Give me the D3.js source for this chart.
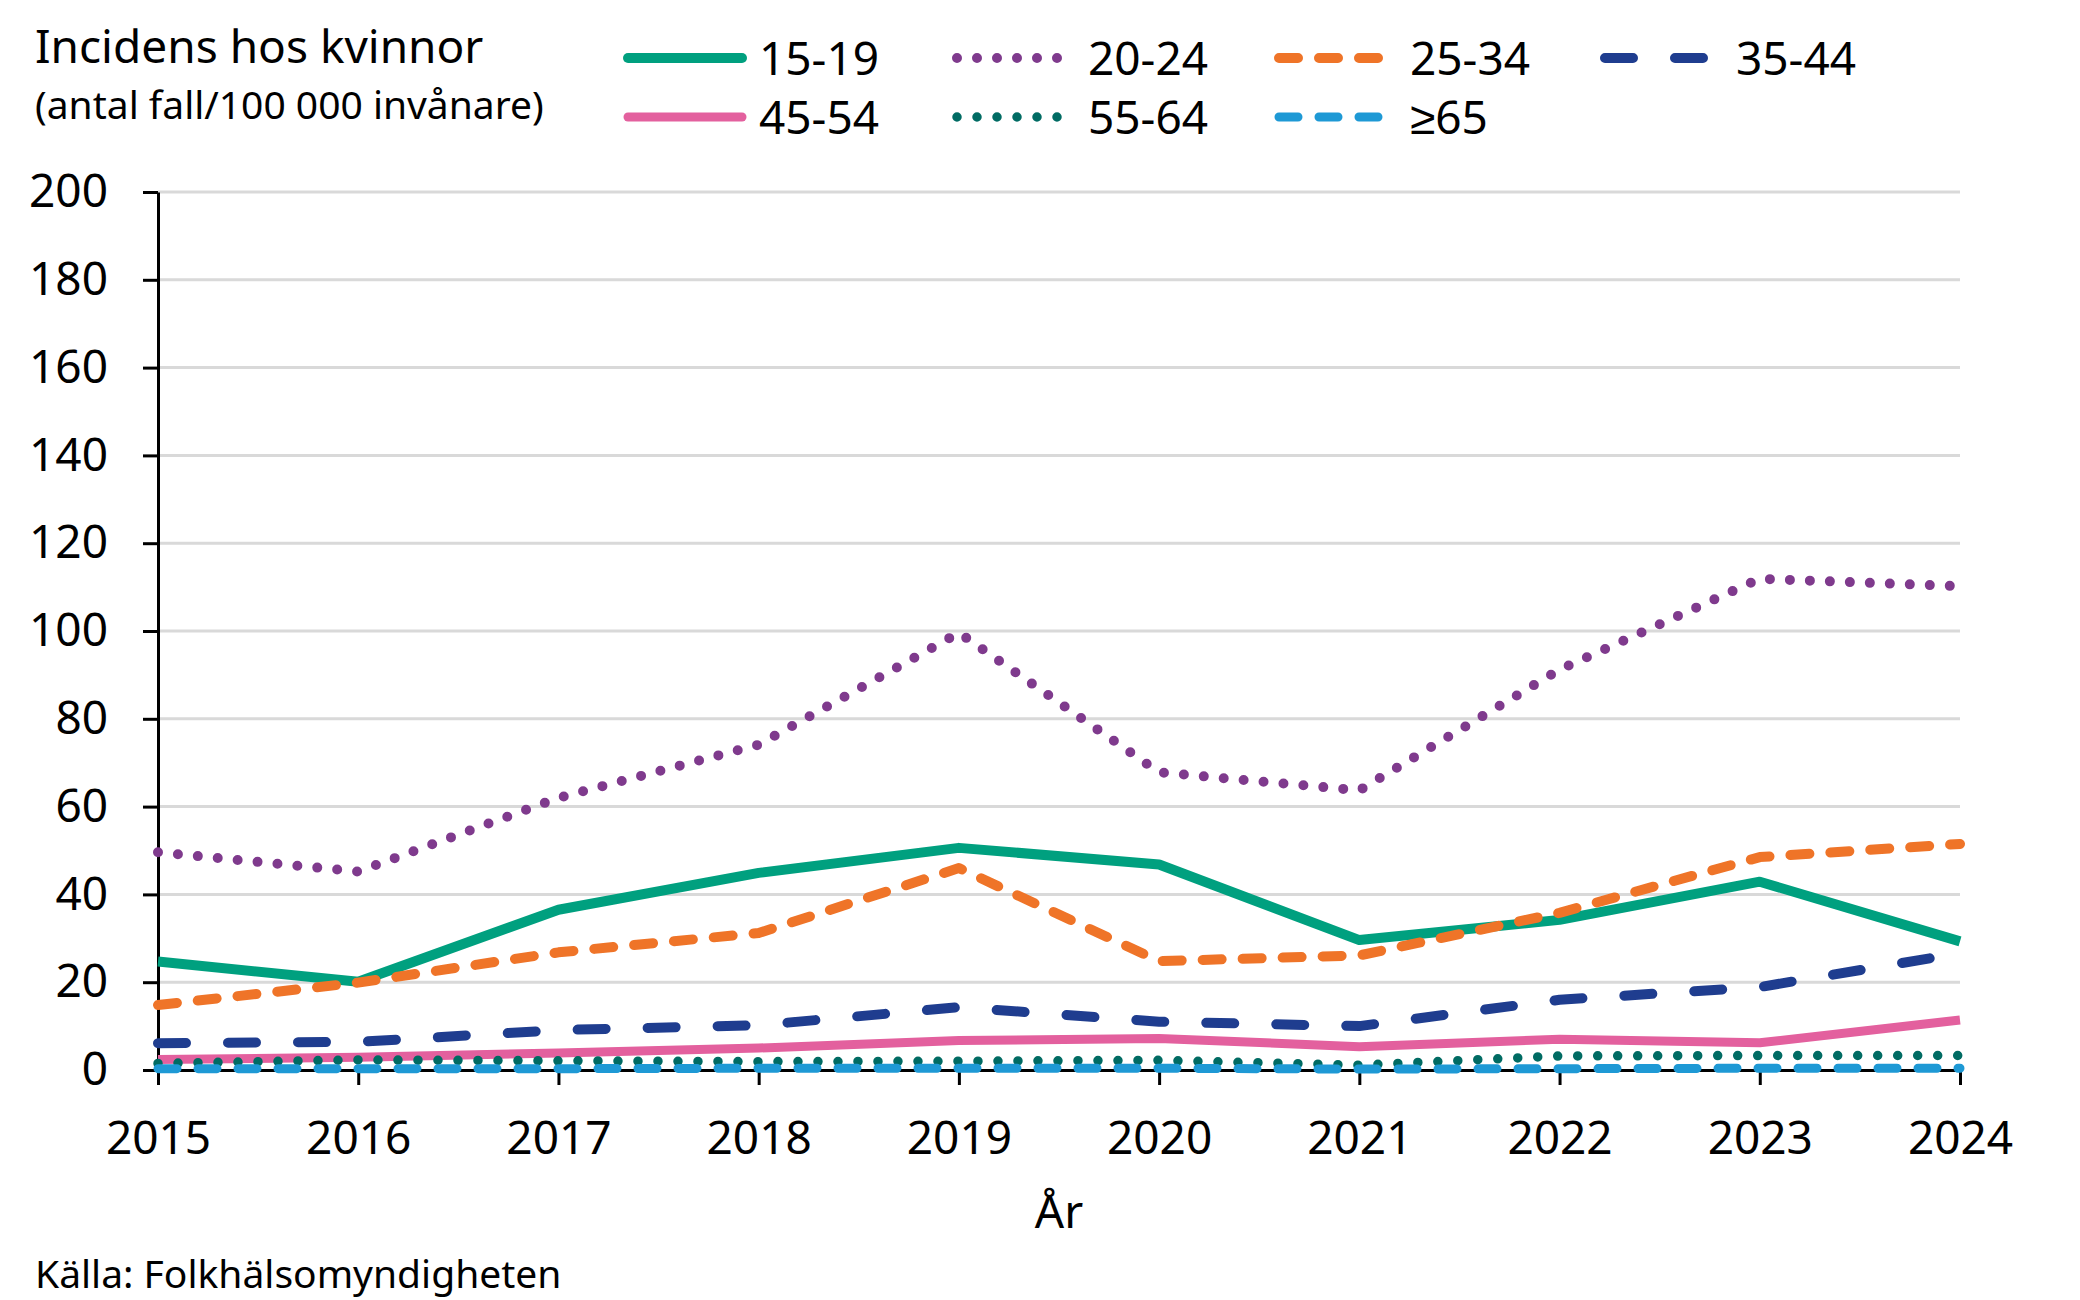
<!DOCTYPE html>
<html lang="sv">
  <head>
    <meta charset="utf-8" />
    <title>Incidens hos kvinnor</title>
    <script src="https://d3js.org/d3.v7.min.js" charset="utf-8"></script>
    <style type="text/css">
      body {
        margin: 0;
        background: #fff;
      }
      svg {
        display: block;
        font-family: "Noto Sans", sans-serif;
      }
      .axis path,
      .axis line {
        stroke: #000;
        stroke-width: 3;
      }
      .axis text {
        font-family: "Noto Sans", sans-serif;
        font-size: 46px;
        fill: #000;
      }
      .grid line {
        stroke: #d9d9d9;
        stroke-width: 3;
      }
    </style>
  </head>
  <body>
    <script type="text/javascript">
      // data (antal fall/100 000 invånare)
      const years = ["2015", "2016", "2017", "2018", "2019", "2020", "2021", "2022", "2023", "2024"];
      const ageGroups = ["15-19", "20-24", "25-34", "35-44", "45-54", "55-64", "≥65"];

      const v15_19 = [24.7, 20.1, 36.5, 44.9, 50.6, 46.8, 29.6, 34.2, 42.9, 29.3];
      const v20_24 = [49.6, 45.2, 62.0, 74.1, 99.6, 67.8, 63.7, 91.2, 111.9, 110.2];
      const v25_34 = [14.8, 19.9, 26.8, 31.2, 46.0, 24.8, 26.1, 35.8, 48.5, 51.5];
      const v35_44 = [6.1, 6.4, 9.1, 10.2, 14.3, 11.0, 10.0, 16.0, 18.9, 26.6];
      const v45_54 = [2.4, 2.9, 3.9, 5.0, 6.7, 7.2, 5.3, 7.0, 6.2, 11.4];
      const v55_64 = [1.5, 2.3, 2.1, 1.9, 2.0, 2.2, 1.1, 3.2, 3.3, 3.3];
      const v65 = [0.3, 0.3, 0.3, 0.4, 0.4, 0.4, 0.2, 0.3, 0.4, 0.4];

      const yTicks = [0, 20, 40, 60, 80, 100, 120, 140, 160, 180, 200];

      const values = [v15_19, v20_24, v25_34, v35_44, v45_54, v55_64, v65];

      // line look per series (colour, width, dash)
      const looks = [
        { colour: "#00a07f", w: 10, dash: null },
        { colour: "#7f3a8d", w: 10, dash: "0,20" },
        { colour: "#ef7428", w: 10, dash: "19,21" },
        { colour: "#1f3d8f", w: 10, dash: "28,42" },
        { colour: "#e3609e", w: 9, dash: null },
        { colour: "#006b63", w: 9.5, dash: "0,20" },
        { colour: "#1e99d5", w: 9, dash: "19,21" },
      ];

      const W = 2080,
        H = 1300;
      const margin = { top: 192, right: 120, bottom: 230, left: 158 };

      const svg = d3
        .select("body")
        .append("svg")
        .attr("width", W)
        .attr("height", H);

      svg.append("rect").attr("width", W).attr("height", H).attr("fill", "#fff");

      const x = d3
        .scalePoint()
        .domain(years)
        .range([margin.left, W - margin.right]);

      const y = d3
        .scaleLinear()
        .domain([0, 200])
        .range([H - margin.bottom, margin.top]);

      // gridlines
      svg
        .append("g")
        .attr("class", "grid")
        .selectAll("line")
        .data(yTicks.filter((d) => d > 0))
        .join("line")
        .attr("x1", margin.left)
        .attr("x2", W - margin.right)
        .attr("y1", (d) => y(d))
        .attr("y2", (d) => y(d));

      // axes
      svg
        .append("g")
        .attr("class", "axis axis--y")
        .attr("transform", `translate(${margin.left},0)`)
        .call(d3.axisLeft(y).tickValues(yTicks).tickSize(15).tickSizeOuter(0).tickPadding(35));

      svg
        .append("g")
        .attr("class", "axis axis--x")
        .attr("transform", `translate(0,${H - margin.bottom})`)
        .call(d3.axisBottom(x).tickSize(15).tickSizeOuter(0).tickPadding(36));

      // series lines
      const line = d3
        .line()
        .x((d, i) => x(years[i]))
        .y((d) => y(d));

      svg
        .append("g")
        .selectAll("path")
        .data(values)
        .join("path")
        .attr("d", line)
        .attr("fill", "none")
        .attr("stroke", (d, i) => looks[i].colour)
        .attr("stroke-width", (d, i) => looks[i].w)
        .attr("stroke-dasharray", (d, i) => looks[i].dash)
        .attr("stroke-linecap", (d, i) => (looks[i].dash ? "round" : "butt"))
        .attr("stroke-linejoin", "round");

      // title and unit line
      svg
        .append("text")
        .attr("x", 35)
        .attr("y", 63)
        .attr("font-size", 46)
        .text("Incidens hos kvinnor");

      svg
        .append("text")
        .attr("x", 35)
        .attr("y", 119)
        .attr("font-size", 39)
        .text("(antal fall/100 000 invånare)");

      svg
        .append("text")
        .attr("x", (margin.left + W - margin.right) / 2)
        .attr("y", 1228)
        .attr("text-anchor", "middle")
        .attr("font-size", 46)
        .text("År");

      svg
        .append("text")
        .attr("x", 35)
        .attr("y", 1288)
        .attr("font-size", 39)
        .text("Källa: Folkhälsomyndigheten");

      // legend, 4 columns x 2 rows
      const legCols = [623, 952, 1274, 1600],
        legRows = [58, 117];

      const leg = svg
        .append("g")
        .selectAll("g")
        .data(ageGroups)
        .join("g")
        .attr("transform", (d, i) => `translate(${legCols[i % 4]},${legRows[Math.floor(i / 4)]})`);

      leg
        .append("line")
        .attr("x1", 5)
        .attr("x2", 119)
        .attr("stroke", (d, i) => looks[i].colour)
        .attr("stroke-width", (d, i) => looks[i].w)
        .attr("stroke-dasharray", (d, i) => looks[i].dash)
        .attr("stroke-linecap", "round");

      leg
        .append("text")
        .attr("x", 136)
        .attr("y", 17)
        .attr("font-size", 46)
        .text((d) => d);
    </script>
  </body>
</html>
